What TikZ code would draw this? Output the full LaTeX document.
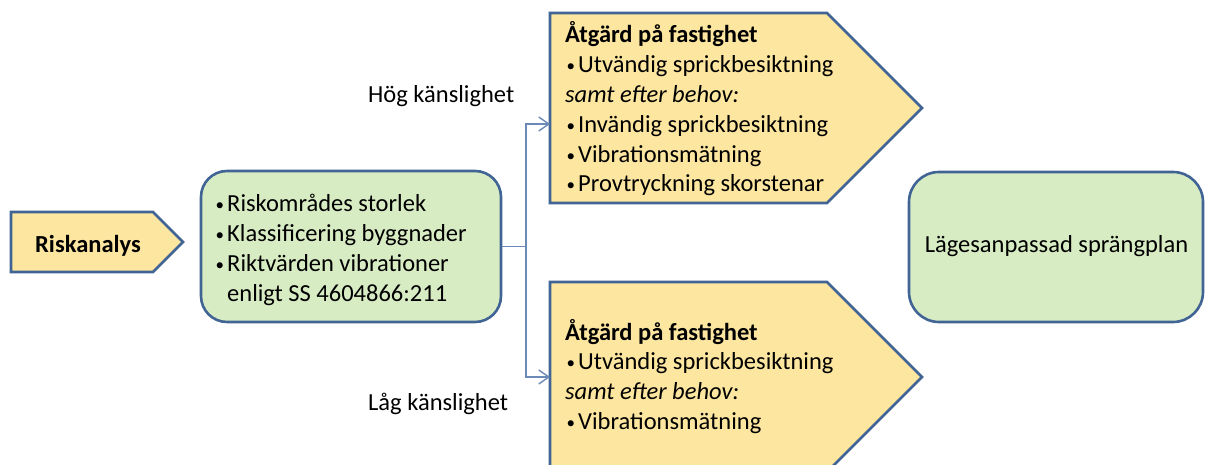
\documentclass[tikz,border=0pt]{standalone}
\usepackage{fontspec}
\setmainfont{Carlito}
\usetikzlibrary{arrows.meta}
\definecolor{fillY}{RGB}{253,230,160}
\definecolor{fillG}{RGB}{216,236,196}
\definecolor{edgeB}{RGB}{64,100,148}
\definecolor{lineB}{RGB}{108,138,184}
\newcommand{\bul}{\makebox[13pt][l]{\hspace*{1.5pt}\raisebox{1pt}{\fontsize{17}{17}\selectfont•}}}
\begin{document}
\begin{tikzpicture}[x=1pt,y=-1pt,
  shapeY/.style={draw=edgeB, line width=2.6pt, fill=fillY, line join=miter},
  boxG/.style={draw=edgeB, line width=2.6pt, fill=fillG, rounded corners=26pt, inner sep=0pt},
  txt/.style={inner sep=0pt, align=flush left, anchor=base west, text width=#1,
    font=\fontsize{24.5}{29.8}\selectfont},
  txt/.default=360pt,
  lbl/.style={inner sep=0pt, font=\fontsize{24.5}{29.8}\selectfont},
  conn/.style={draw=lineB, line width=1.6pt, -{Straight Barb[length=10pt,width=14pt,line width=1.4pt]}}]
\useasboundingbox (0,0) rectangle (1205,465);
\clip (0,0) rectangle (1205,465);
% Riskanalys
\draw[shapeY] (11,212) -- (153,212) -- (183,242) -- (153,272) -- (11,272) -- cycle;
\node[lbl, anchor=base, font=\fontsize{24.5}{29.8}\selectfont\bfseries] (risk) at (88,252) {Riskanalys};
% criteria box
\node[boxG, minimum width=300pt, minimum height=151pt] (crit) at (351,246.5) {};
\node[txt] (critT) at (214,212) {\bul Riskområdes storlek\\ \bul Klassificering byggnader\\ \bul Riktvärden vibrationer\\ \hspace*{13pt}enligt SS 4604866:211};
% high sensitivity
\draw[shapeY] (550,13) -- (827,13) -- (922,108) -- (827,203) -- (550,203) -- cycle;
\node[txt] (hiT) at (565,43) {\textbf{Åtgärd på fastighet}\\ \bul Utvändig sprickbesiktning\\ \textit{samt efter behov:}\\ \bul Invändig sprickbesiktning\\ \bul Vibrationsmätning\\ \bul Provtryckning skorstenar};
% low sensitivity
\draw[shapeY] (550,282) -- (827,282) -- (922,377) -- (827,472) -- (550,472) -- cycle;
\node[txt] (loT) at (565,340) {\textbf{Åtgärd på fastighet}\\ \bul Utvändig sprickbesiktning\\ \textit{samt efter behov:}\\ \bul Vibrationsmätning};
% result
\node[boxG, rounded corners=30pt, minimum width=294pt, minimum height=150pt] (plan) at (1056,247) {};
\node[lbl, anchor=base] (planT) at (1056.5,252) {Lägesanpassad sprängplan};
% labels
\node[lbl, anchor=base west] (hog) at (368,103) {Hög känslighet};
\node[lbl, anchor=base west] (lag) at (368,410) {Låg känslighet};
% connectors
\coordinate (split) at (526,246.5);
\coordinate (hiIn) at (550,124);
\coordinate (loIn) at (550,377);
\draw[conn] (crit.east) -- (split) |- (hiIn);
\draw[conn] (split) |- (loIn);
\end{tikzpicture}
\end{document}
